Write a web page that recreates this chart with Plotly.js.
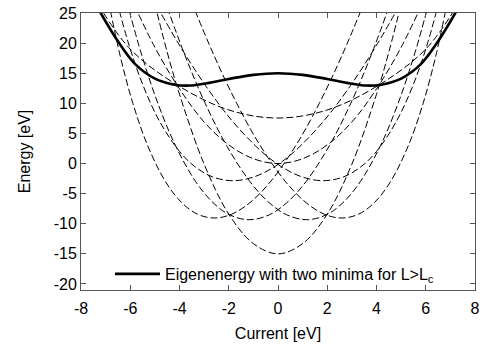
<!DOCTYPE html>
<html><head><meta charset="utf-8">
<script src="https://cdn.plot.ly/plotly-3.0.1.min.js"></script>
<style>html,body{margin:0;padding:0;background:#fff}#c{width:483px;height:345px}</style>
</head><body><div id="c"></div>
<script>
// Thick curve: eigenenergy with two minima
const thickX = [-7.4,-7.2,-6.5,-5.8,-5.0,-4.2,-3.6,-2.8,-2.0,-1.0,0,1.0,2.0,2.8,3.6,4.2,5.0,5.8,6.5,7.2,7.4];
const thickY = [26.5,25.0,20.3,16.5,14.1,13.1,12.95,13.4,14.05,14.73,15.0,14.73,14.05,13.4,12.95,13.1,14.1,16.5,20.3,25.0,26.5];

// Dashed curves
const s1X = [-5.2,-4.5,-4,-3,-2,-1,0,1,2,3,4,4.5,5.2];
const s1Y = [29.8,18.5,11.5,-0.1,-8.4,-13.3,-15,-13.3,-8.4,-0.1,11.5,18.5,29.8];
const s2X = [-6,-5,-4,-3,-2,-1,0,1,2,3,4,5,6];
const s2Y = [27.8,19.3,12.4,6.9,3.1,0.8,0,0.8,3.1,6.9,12.4,19.3,27.8];
const s3X = [-7.3,-6,-4.12,-2,0,2,4.12,6,7.3];
const s3Y = [26.4,19.0,13.1,8.9,7.56,8.9,13.1,19.0,26.4];
const aLX = [-6.148,-5.532,-4.878,-4.165,-3.343,-2.638,-1.973,-1.17,-0.349,0.360,1.139,2.091,2.956,3.782,4.592];
const aLY = [27,18,10,3,-3,-6.5,-8.5,-9.33,-8.5,-6.5,-3,3,10,18,27];
const aRX = [6.148,5.532,4.878,4.165,3.343,2.638,1.973,1.17,0.349,-0.360,-1.139,-2.091,-2.956,-3.782,-4.592];
const aRY = [27,18,10,3,-3,-6.5,-8.5,-9.33,-8.5,-6.5,-3,3,10,18,27];
const bLX = [-6.884,-6.416,-5.893,-5.295,-4.570,-3.910,-3.273,-2.59,-1.875,-1.140,-0.304,0.725,1.677,2.604,3.528];
const bLY = [27,18,10,3,-3,-6.5,-8.4,-9.05,-8.4,-6.5,-3,3,10,18,27];
const bRX = [6.884,6.416,5.893,5.295,4.570,3.910,3.273,2.59,1.875,1.140,0.304,-0.725,-1.677,-2.604,-3.528];
const bRY = [27,18,10,3,-3,-6.5,-8.4,-9.05,-8.4,-6.5,-3,3,10,18,27];
const cLX = [-6.544,-6.075,-5.483,-4.807,-3.997,-3.379,-2.670,-1.84,-0.962,-0.131,0.669,1.843,2.953,4.053,5.032];
const cLY = [27,20,13,7,2,-0.5,-2.2,-2.85,-2.2,-0.5,2,7,13,20,27];
const cRX = [6.544,6.075,5.483,4.807,3.997,3.379,2.670,1.84,0.962,0.131,-0.669,-1.843,-2.953,-4.053,-5.032];
const cRY = [27,20,13,7,2,-0.5,-2.2,-2.85,-2.2,-0.5,2,7,13,20,27];

const xTicks = [-8,-6,-4,-2,0,2,4,6,8];
const yTicks = [-20,-15,-10,-5,0,5,10,15,20,25];
const legendLabel = 'Eigenenergy with two minima for L&gt;L<sub>c</sub>';

const dashed = [[s1X,s1Y],[s2X,s2Y],[s3X,s3Y],[aLX,aLY],[aRX,aRY],[bLX,bLY],[bRX,bRY],[cLX,cLY],[cRX,cRY]];
const traces = dashed.map(([x,y]) => ({
  x: x, y: y, type: 'scatter', mode: 'lines', showlegend: false, hoverinfo: 'skip',
  line: {color: '#000', width: 1, dash: '7px,3px', shape: 'spline', smoothing: 1}
}));
traces.push({
  x: thickX, y: thickY, type: 'scatter', mode: 'lines', name: legendLabel,
  line: {color: '#000', width: 2.6, shape: 'spline', smoothing: 1}
});

const font = {family: 'Liberation Sans, Arial, Helvetica, sans-serif', size: 16, color: '#000'};
const axisCommon = {
  showgrid: false, zeroline: false, showline: true, mirror: 'ticks',
  linecolor: '#555', linewidth: 1, ticks: 'inside', ticklen: 5, tickcolor: '#555',
  tickfont: font
};
const layout = {
  width: 483, height: 345,
  margin: {l: 81, r: 8, t: 13, b: 55, pad: 0},
  paper_bgcolor: '#fff', plot_bgcolor: '#fff',
  font: font,
  xaxis: Object.assign({}, axisCommon, {range: [-8, 8], tickvals: xTicks, ticktext: xTicks.map(String),
    ticklabelstandoff: 4,
    title: {text: 'Current [eV]', font: font, standoff: 11}}),
  yaxis: Object.assign({}, axisCommon, {range: [-21, 25], tickvals: yTicks, ticktext: yTicks.map(String),
    title: {text: 'Energy [eV]', font: font, standoff: 19}}),
  showlegend: true,
  legend: {x: 0.0736, y: 0.058, xanchor: 'left', yanchor: 'middle', bgcolor: 'rgba(0,0,0,0)',
    borderwidth: 0, font: font, itemwidth: 45}
};
Plotly.newPlot('c', traces, layout, {staticPlot: true});
</script></body></html>
